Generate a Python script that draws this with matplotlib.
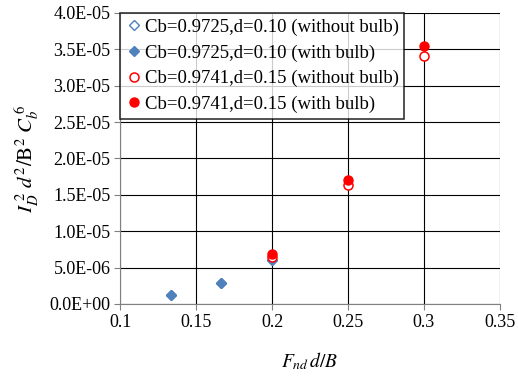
import numpy as np
import matplotlib.pyplot as plt

plt.rcParams.update({
    "font.family": "Liberation Serif",
    "mathtext.fontset": "stix",
    "font.size": 13,
})

x_010 = [0.1333, 0.1667, 0.2]
y_010_without = [1.2e-6, 2.9e-6, 6.1e-6]
y_010_with = [1.2e-6, 2.95e-6, 6.1e-6]

x_015 = [0.2, 0.25, 0.3]
y_015_without = [6.4e-6, 16.3e-6, 34.1e-6]
y_015_with = [6.85e-6, 17.0e-6, 35.4e-6]

blue = "#4f81bd"
red = "#ff0000"

fig = plt.figure(figsize=(5.18, 3.8), dpi=100)
ax = fig.add_axes([0.232, 0.2, 0.733, 0.766])

ax.plot(x_010, y_010_without, linestyle="none", marker="D", ms=5, mfc="white",
        mec=blue, mew=1, label="Cb=0.9725,d=0.10 (without bulb)")
ax.plot(x_010, y_010_with, linestyle="none", marker="D", ms=5, color=blue,
        label="Cb=0.9725,d=0.10 (with bulb)")
ax.plot(x_015, y_015_without, linestyle="none", marker="o", ms=6.5, mfc="white",
        mec=red, mew=1.1, label="Cb=0.9741,d=0.15 (without bulb)")
ax.plot(x_015, y_015_with, linestyle="none", marker="o", ms=6.5, color=red,
        label="Cb=0.9741,d=0.15 (with bulb)")

ax.set_xlim(0.1, 0.35)
ax.set_ylim(0, 4.0e-5)
ax.set_xticks(np.arange(0.1, 0.351, 0.05))
ax.set_xticklabels(["0.1", "0.15", "0.2", "0.25", "0.3", "0.35"])
yt = np.arange(0, 4.01e-5, 5e-6)
ax.set_yticks(yt)
ax.set_yticklabels([f"{v:.1E}" for v in yt])
ax.grid(True, color="black", linewidth=0.8)
ax.set_axisbelow(True)
for s in ["top", "right"]:
    ax.spines[s].set_visible(False)
for s in ["left", "bottom"]:
    ax.spines[s].set_color("#808080")
ax.tick_params(direction="out", length=4, color="#808080", pad=3)

ax.set_xlabel(r"$F_{nd}\,d/B$", fontsize=14, labelpad=14)
ax.set_ylabel(r"$I_D^{\ 2}\ d^2/\mathrm{B}^2\ C_b^{\ 6}$", fontsize=15, labelpad=6)

leg = ax.legend(loc="upper left", frameon=True, fancybox=False, edgecolor="black",
                fontsize=13.5, handletextpad=0.1, handlelength=0.9, borderpad=0.3,
                labelspacing=0.45, borderaxespad=0.0)
leg.get_frame().set_linewidth(1.2)

plt.savefig("out.png", dpi=100)
